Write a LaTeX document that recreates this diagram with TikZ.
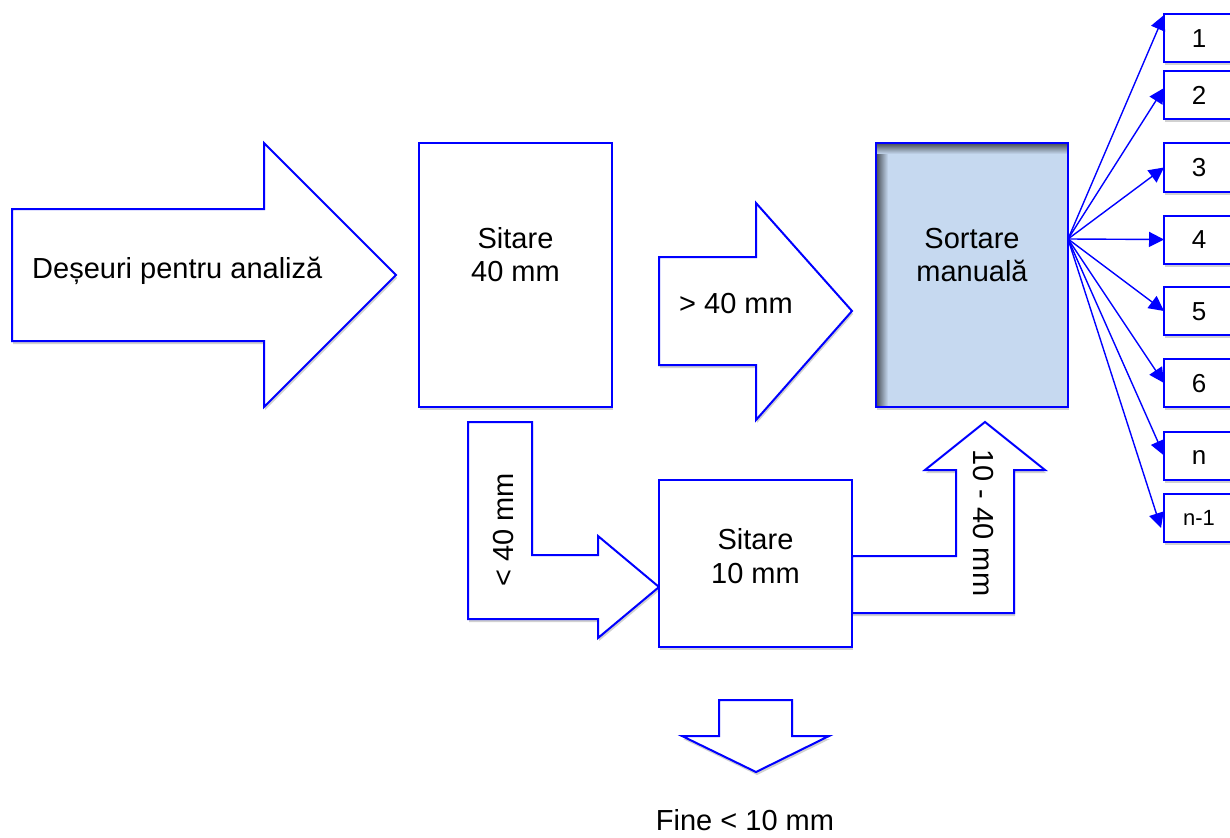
\documentclass[tikz,border=0pt]{standalone}
\usepackage{fontspec}
\setmainfont{Liberation Sans}
\usetikzlibrary{shadows,arrows.meta,calc}
\definecolor{bl}{RGB}{0,0,255}
\definecolor{sortfill}{RGB}{198,217,240}
\begin{document}
\begin{tikzpicture}[x=1pt,y=-1pt,
  softshadow/.style={drop shadow={shadow xshift=1pt,shadow yshift=-3pt,opacity=0.18,fill=black}},
  blockarrow/.style={draw=bl,line width=2pt,fill=white,line join=miter,softshadow},
  procbox/.style={draw=bl,line width=2pt,fill=white,inner sep=0pt,outer sep=0pt,softshadow},
  outbox/.style={draw=bl,line width=2pt,fill=white,inner sep=0pt,outer sep=0pt,
    minimum width=70pt,minimum height=48pt,text height=18.5pt,text depth=0pt,
    font=\fontsize{26}{30}\selectfont,softshadow},
  txt/.style={font=\fontsize{29}{33}\selectfont,inner sep=0pt,anchor=base},
  fan/.style={draw=bl,line width=1.4pt,-{Triangle[length=15pt,width=15pt]}}]
\clip (0,0) rectangle (1230,837);
\fill[white] (0,0) rectangle (1230,837);

% block arrows
\path[blockarrow] (12,209) -- (264,209) -- (264,143) -- (396,275) -- (264,407) -- (264,341) -- (12,341) -- cycle;
\path[blockarrow] (659,257) -- (756,257) -- (756,203) -- (852,311) -- (756,420) -- (756,365) -- (659,365) -- cycle;
\path[blockarrow] (468,422) -- (532,422) -- (532,555) -- (598,555) -- (598,536) -- (659,587) -- (598,638) -- (598,619) -- (468,619) -- cycle;
\path[blockarrow] (852,556) -- (956,556) -- (956,470) -- (925,470) -- (985,422) -- (1045,470) -- (1014,470) -- (1014,613) -- (852,613) -- cycle;
\path[blockarrow] (719,700) -- (792,700) -- (792,736) -- (829,736) -- (756,772) -- (682,736) -- (719,736) -- cycle;

% process boxes
\node[procbox,minimum width=193pt,minimum height=264pt] (sit40) at (515.5,275) {};
\node[procbox,minimum width=193pt,minimum height=167pt] (sit10) at (755.5,563.5) {};
\node[procbox,fill=sortfill,minimum width=192pt,minimum height=264pt] (sort) at (972,275) {};
\shade[left color=black!65!sortfill,right color=sortfill] (sort.north west) rectangle ($(sort.south west)+(12,0)$);
\shade[top color=black!65!sortfill,bottom color=sortfill] (sort.north west) rectangle ($(sort.north east)+(0,11)$);
\draw[bl,line width=2pt] (sort.north west) rectangle (sort.south east);

% texts
\node[txt,anchor=base west] (t0) at (32,278) {Deșeuri pentru analiză};
\node[txt] (t1a) at (515.5,248) {Sitare};
\node[txt] (t1b) at (515.5,281) {40 mm};
\node[txt,anchor=base west] (t2) at (679,313) {> 40 mm};
\node[txt] (t3a) at (972,248) {Sortare};
\node[txt] (t3b) at (972,281) {manuală};
\node[txt] (t4a) at (755.5,549) {Sitare};
\node[txt] (t4b) at (755.5,583) {10 mm};
\node[txt,rotate=90] (t5) at (513,530) {< 40 mm};
\node[txt,rotate=-90] (t6) at (973,523) {10 - 40 mm};
\node[txt] (t7) at (745,830) {Fine < 10 mm};

% output boxes
\node[outbox] (b1) at (1199,38) {1};
\node[outbox] (b2) at (1199,95) {2};
\node[outbox] (b3) at (1199,167.5) {3};
\node[outbox] (b4) at (1199,239.5) {4};
\node[outbox] (b5) at (1199,311) {5};
\node[outbox] (b6) at (1199,383) {6};
\node[outbox] (bn) at (1199,455.5) {n};
\node[outbox,font=\fontsize{22}{26}\selectfont,text height=15.5pt] (bn1) at (1199,518) {n-1};

% fan connectors
\coordinate (fo) at ($(sort.east)+(0,-36)$);
\draw[fan] (fo) -- ($(b1.north west)+(0,1)$);
\draw[fan] (fo) -- ($(b2.west)+(0,-7)$);
\draw[fan] (fo) -- (b3.west);
\draw[fan] (fo) -- (b4.west);
\draw[fan] (fo) -- (b5.west);
\draw[fan] (fo) -- (b6.west);
\draw[fan] (fo) -- (bn.west);
\draw[fan] (fo) -- ($(bn1.west)+(-3,10)$);
\end{tikzpicture}
\end{document}
